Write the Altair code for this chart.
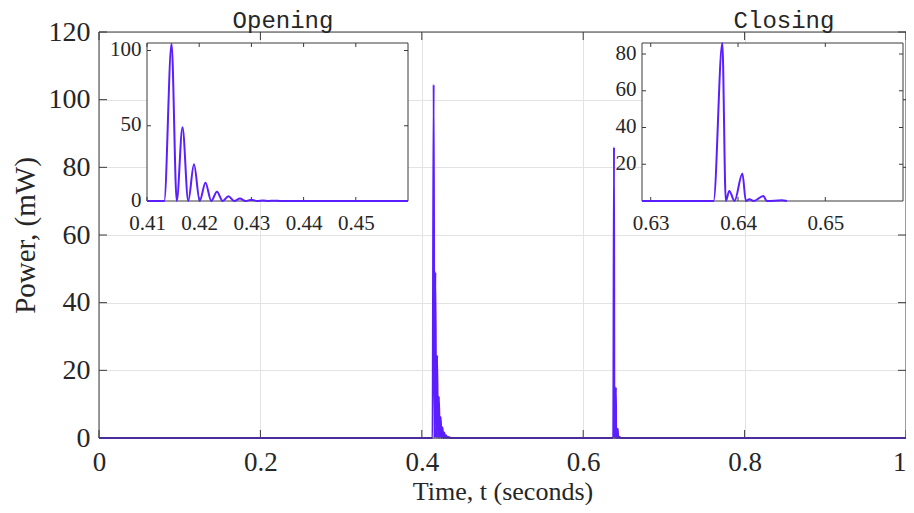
import altair as alt
import pandas as pd

# ---- data: power trace (time in seconds, power in mW) ----
time_s = [0.0, 0.41, 0.4128, 0.4133, 0.4147, 0.4157, 0.4168, 0.4179, 0.4190, 0.4201,
          0.4212, 0.4223, 0.4234, 0.4245, 0.4256, 0.4267, 0.4278, 0.4289, 0.4300,
          0.4311, 0.4322, 0.4333, 0.4344, 0.4355, 0.46,
          0.629, 0.6365, 0.6372, 0.6382, 0.6386, 0.6390, 0.6396, 0.6405, 0.6409,
          0.6413, 0.6418, 0.6429, 0.6433, 0.6450, 0.6456, 0.659, 1.0]
power_mw = [0.0, 0.0, 0.0, 0.0, 104.5, 0.0, 49.0, 0.0, 24.4, 0.0,
            12.2, 0.0, 6.2, 0.0, 3.2, 0.0, 1.6, 0.0, 0.8,
            0.0, 0.4, 0.0, 0.2, 0.0, 0.0,
            0.0, 0.0, 0.0, 86.0, 0.0, 5.5, 0.0, 15.0, 0.0,
            0.9, 0.0, 2.7, 0.0, 0.4, 0.0, 0.0, 0.0]

main_xticks = [0, 0.2, 0.4, 0.6, 0.8, 1.0]
main_yticks = [0, 20, 40, 60, 80, 100, 120]
open_xticks = [0.41, 0.42, 0.43, 0.44, 0.45]
open_yticks = [0, 50, 100]
close_xticks = [0.63, 0.64, 0.65]
close_yticks = [20, 40, 60, 80]

BLUE = "#5a1eff"
AX = "#3a3a3a"
TXT = "#262626"
GRID = "#e3e3e3"
SERIF = "Liberation Serif"
MONO = "Liberation Mono"

W, H = 807, 406
TL = 8      # main inward tick length
ITL = 4     # inset inward tick length

df = pd.DataFrame({"t": time_s, "p": power_mw})
one = pd.DataFrame({"a": [0]})


def sc(lo, hi, rng=None):
    if rng is None:
        return alt.Scale(domain=[lo, hi], nice=False, zero=False)
    return alt.Scale(domain=[lo, hi], range=rng, nice=False, zero=False)


def frame(xs, ys, xlo, xhi, ylo, yhi, xticks, yticks, px0, px1, py0, py1, tl, fill):
    """Box + inward ticks on all four sides, drawn through the given scales."""
    if fill:
        box = alt.Chart(one).mark_rect(fill="white", stroke=AX, strokeWidth=1)
    else:
        box = alt.Chart(one).mark_rect(fillOpacity=0, stroke=AX, strokeWidth=1)
    box = box.encode(
        x=alt.XDatum(xlo, scale=xs, axis=None), x2=alt.X2Datum(xhi),
        y=alt.YDatum(ylo, scale=ys, axis=None), y2=alt.Y2Datum(yhi))
    xdf = pd.DataFrame({"v": xticks})
    ydf = pd.DataFrame({"v": yticks})
    ticks = [
        alt.Chart(xdf).mark_rule(color=AX).encode(
            x=alt.X("v:Q", scale=xs, axis=None), y=alt.value(py1), y2=alt.value(py1 - tl)),
        alt.Chart(xdf).mark_rule(color=AX).encode(
            x=alt.X("v:Q", scale=xs, axis=None), y=alt.value(py0), y2=alt.value(py0 + tl)),
        alt.Chart(ydf).mark_rule(color=AX).encode(
            y=alt.Y("v:Q", scale=ys, axis=None), x=alt.value(px0), x2=alt.value(px0 + tl)),
        alt.Chart(ydf).mark_rule(color=AX).encode(
            y=alt.Y("v:Q", scale=ys, axis=None), x=alt.value(px1), x2=alt.value(px1 - tl)),
    ]
    return box, ticks


# ---------------- main axes ----------------
main_line = alt.Chart(df).mark_line(color=BLUE, strokeWidth=2, interpolate="monotone").encode(
    x=alt.X("t:Q", scale=sc(0, 1), axis=alt.Axis(
        orient="bottom", values=main_xticks, format="~g", grid=True, gridColor=GRID,
        domain=False, ticks=False, labelFlush=False, labelFontSize=27, labelPadding=11,
        labelAlign={"expr": "datum.value == 1 ? 'right' : 'center'"},
        title="Time, t (seconds)", titleFontSize=26, titlePadding=3)),
    y=alt.Y("p:Q", scale=sc(0, 120), axis=alt.Axis(
        orient="left", values=main_yticks, format="d", grid=True, gridColor=GRID,
        domain=False, ticks=False, labelFontSize=28, labelPadding=9,
        title="Power, (mW)", titleFontSize=29, titlePadding=8)),
)
main_box, main_ticks = frame(sc(0, 1), sc(0, 120), 0, 1, 0, 120,
                             main_xticks, main_yticks, 0, W, 0, H, TL, False)

titles = [
    alt.Chart(one).mark_text(font=MONO, fontSize=24, color=TXT, align="center",
                             baseline="alphabetic").encode(
        x=alt.value(184), y=alt.value(-4), text=alt.value("Opening")),
    alt.Chart(one).mark_text(font=MONO, fontSize=24, color=TXT, align="center",
                             baseline="alphabetic").encode(
        x=alt.value(685), y=alt.value(-4), text=alt.value("Closing")),
]


# ---------------- insets ----------------
def inset(lo, hi, ymax, px0, px1, py0, py1, xticks, yticks):
    xs = sc(lo, hi, [px0, px1])
    ys = sc(0, ymax, [py1, py0])
    box, ticks = frame(xs, ys, lo, hi, 0, ymax, xticks, yticks,
                       px0, px1, py0, py1, ITL, True)
    line = alt.Chart(df).transform_filter(
        (alt.datum.t >= lo) & (alt.datum.t <= hi)
    ).mark_line(color=BLUE, strokeWidth=2, interpolate="monotone").encode(
        x=alt.X("t:Q", scale=xs, axis=alt.Axis(
            orient="bottom", offset=-(H - py1), values=xticks, format=".2f", grid=False,
            domain=False, ticks=False, labelFlush=False, labelFontSize=21, labelPadding=11,
            title=None)),
        y=alt.Y("p:Q", scale=ys, axis=alt.Axis(
            orient="left", offset=-px0, values=yticks, format="d", grid=False,
            domain=False, ticks=False, labelFontSize=21, labelPadding=6, labelOffset=-1,
            title=None)),
    )
    return [box, *ticks, line]


inset_open = inset(0.41, 0.46, 105, 48, 309, 11, 169, open_xticks, open_yticks)
inset_close = inset(0.629, 0.6589, 86, 543, 804, 11, 169, close_xticks, close_yticks)

layers = [*main_ticks, main_line, main_box, *titles, *inset_open, *inset_close]

chart = alt.layer(*layers).resolve_scale(
    x="independent", y="independent"
).properties(
    width=W, height=H,
    autosize=alt.AutoSizeParams(type="none"),
    padding={"left": 91, "top": 24, "right": 0, "bottom": 67},
    background="white",
).configure_view(stroke=None).configure_axis(
    labelFont=SERIF, titleFont=SERIF, labelColor=TXT, titleColor=TXT,
    titleFontWeight="normal",
)

chart.save("out.html", embed_options={"renderer": "svg", "actions": False})
